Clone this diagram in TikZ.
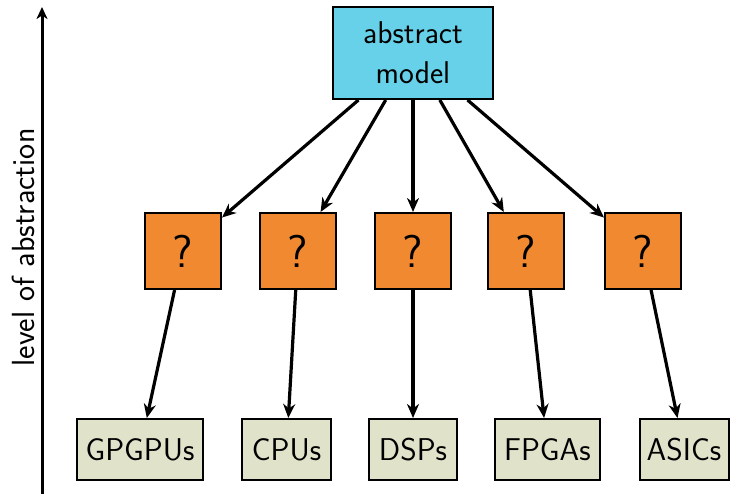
\documentclass[tikz,border=0pt]{standalone}
\usetikzlibrary{arrows.meta}
\definecolor{cyanbox}{RGB}{102,209,232}
\definecolor{orangebox}{RGB}{241,137,48}
\definecolor{beigebox}{RGB}{224,226,202}
\begin{document}
\begin{tikzpicture}[x=1pt,y=-1pt,font=\sffamily,
  box/.style={draw=black,line width=2pt,inner sep=0pt,align=center},
  topbox/.style={box,fill=cyanbox,minimum width=160pt,minimum height=92pt,font=\sffamily\fontsize{31.5}{40}\selectfont},
  qbox/.style={box,fill=orangebox,minimum width=76pt,minimum height=76pt,font=\sffamily\fontsize{46}{50}\selectfont},
  hwbox/.style={box,fill=beigebox,minimum height=61pt,font=\sffamily\fontsize{31.5}{36}\selectfont},
  conn/.style={line width=3.2pt,-{Stealth[length=14pt,width=12pt,inset=4.5pt]}}]
\useasboundingbox (0,0) rectangle (730,494);
\node[topbox] (am) at (413,53) {abstract\\model};
\node[qbox] (q1) at (183,251) {?};
\node[qbox] (q2) at (298,251) {?};
\node[qbox] (q3) at (413,251) {?};
\node[qbox] (q4) at (526,251) {?};
\node[qbox] (q5) at (643,251) {?};
\node[hwbox,minimum width=126pt] (h1) at (140,449.5) {GPGPUs};
\node[hwbox,minimum width=89pt] (h2) at (286.5,449.5) {CPUs};
\node[hwbox,minimum width=88pt] (h3) at (413,449.5) {DSPs};
\node[hwbox,minimum width=105pt] (h4) at (547.5,449.5) {FPGAs};
\node[hwbox,minimum width=89pt] (h5) at (684,449.5) {ASICs};
\foreach \i in {1,...,5}{
  \draw[conn] (am) -- (q\i);
  \draw[conn] (q\i) -- (h\i);
}
\coordinate (axb) at (42,500);
\coordinate (axt) at (42,7);
\draw[line width=3pt,-{Stealth[length=12pt,width=11pt,inset=3.5pt]}] (axb) -- (axt);
\node[rotate=90,font=\sffamily\fontsize{32}{36}\selectfont] (lbl) at (23,247.5) {level of abstraction};
\end{tikzpicture}
\end{document}
